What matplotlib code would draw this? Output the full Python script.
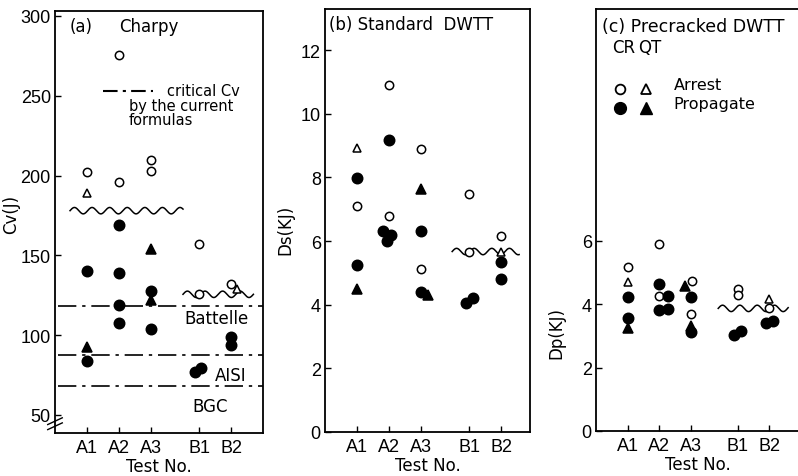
import numpy as np
import matplotlib
matplotlib.use("Agg")
import matplotlib.pyplot as plt

plt.rcParams['font.family'] = ['Liberation Sans', 'DejaVu Sans']
TXT = ['DejaVu Sans']

# ---------------- data ----------------
categories = ["A1", "A2", "A3", "B1", "B2"]
cat_pos = [1, 2, 3, 4.5, 5.5]

# Panel (a) Charpy  Cv (J): (category index, value, x-offset)
a_cr_arrest = [(0, 202.5, 0), (1, 275.6, 0), (1, 196, 0), (2, 210, 0), (2, 203, 0),
               (3, 157, 0), (3, 125.6, 0), (4, 132, 0)]
a_qt_arrest = [(0, 189, 0), (4, 129, 0.19)]
a_cr_prop = [(0, 140, 0), (0, 84, 0), (1, 169, 0), (1, 139, 0), (1, 119, 0), (1, 107.5, 0),
             (2, 127.5, 0), (2, 104, 0), (3, 77, -0.12), (3, 79.5, 0.06), (4, 99, 0), (4, 94, 0)]
a_qt_prop = [(0, 92.5, 0), (2, 154, 0), (2, 122, 0)]
a_critical_names = ["Battelle", "AISI", "BGC"]
a_critical_values = [118, 87.5, 68]
a_waves = [(0.47, 4.0, 178), (4.0, 6.2, 125.6)]

# Panel (b) Standard DWTT  Ds (KJ)
b_cr_arrest = [(0, 7.11, 0), (1, 10.9, 0), (1, 6.8, 0), (2, 8.88, 0), (2, 5.13, 0),
               (3, 7.47, 0), (3, 5.67, 0), (4, 6.17, 0)]
b_qt_arrest = [(0, 8.91, 0), (4, 5.64, 0)]
b_cr_prop = [(0, 7.97, 0), (0, 5.24, 0), (1, 9.16, 0), (1, 6.30, -0.2), (1, 6.19, 0.06),
             (1, 6.01, -0.06), (2, 6.33, 0), (2, 4.41, 0), (3, 4.06, -0.1), (3, 4.22, 0.12),
             (4, 5.35, 0), (4, 4.82, 0)]
b_qt_prop = [(0, 4.5, 0), (2, 7.63, 0), (2, 4.3, 0.22)]
b_waves = [(3.97, 6.06, 5.67)]

# Panel (c) Precracked DWTT  Dp (KJ)
c_cr_arrest = [(0, 5.17, 0), (1, 5.9, 0), (1, 4.25, 0), (2, 4.73, 0.06), (2, 3.68, 0),
               (3, 4.48, 0), (3, 4.3, 0), (4, 3.87, 0)]
c_qt_arrest = [(0, 4.7, 0), (4, 4.16, 0)]
c_cr_prop = [(0, 4.22, 0), (0, 3.56, 0), (1, 4.63, 0), (1, 4.25, 0.28), (1, 3.81, 0),
             (1, 3.84, 0.28), (2, 4.22, 0), (2, 3.11, 0), (3, 3.02, -0.12), (3, 3.17, 0.1),
             (4, 3.4, -0.1), (4, 3.46, 0.12)]
c_qt_prop = [(0, 3.24, 0), (2, 4.57, -0.19), (2, 3.33, 0)]
c_waves = [(3.88, 6.1, 3.87)]

# ---------------- figure ----------------
fig = plt.figure(figsize=(7.98, 4.77), dpi=100)
axA = fig.add_axes([55/798, 43/477, 208/798, 422/477])
axB = fig.add_axes([325/798, 44/477, 205/798, 423/477])
axC = fig.add_axes([596/798, 45/477, 204/798, 422/477])

def style_axis(ax):
    ax.set_xticks(cat_pos)
    ax.set_xticklabels(categories)
    ax.tick_params(direction='in', length=4, width=1, labelsize=13, pad=3)
    ax.tick_params(axis='x', pad=4)
    for s in ax.spines.values():
        s.set_linewidth(1.3)
    ax.set_xlabel("Test No.", fontsize=12, family=TXT)
    ax.xaxis.set_label_coords(0.5, -0.057)

def plot_points(ax, pts, marker, filled, ms):
    xs = [cat_pos[i] + off for i, v, off in pts]
    ys = [v for i, v, off in pts]
    ax.plot(xs, ys, linestyle='none', marker=marker, markersize=ms,
            markerfacecolor='black' if filled else 'white',
            markeredgecolor='black', markeredgewidth=1.1, zorder=4)

def draw_wave(ax, x0, x1, level, px_per_unit_y, amp_px=3.2, period=0.55):
    xs = np.linspace(x0, x1, 300)
    amp = amp_px / px_per_unit_y
    ys = level + amp * np.sin(2 * np.pi * (xs - x0) / period)
    ax.plot(xs, ys, color='black', lw=1.1, zorder=3)

def all_points(ax, cra, qta, crp, qtp):
    plot_points(ax, cra, 'o', False, 6)
    plot_points(ax, qta, '^', False, 6)
    plot_points(ax, crp, 'o', True, 7.5)
    plot_points(ax, qtp, '^', True, 7)

# Panel (a)
axA.set_xlim(0, 6.5)
axA.set_ylim(38.7, 303.1)
axA.set_yticks([50, 100, 150, 200, 250, 300])
style_axis(axA)
all_points(axA, a_cr_arrest, a_qt_arrest, a_cr_prop, a_qt_prop)
pxA = 422 / (303.1 - 38.7)
for x0, x1, lv in a_waves:
    draw_wave(axA, x0, x1, lv, pxA)
ls_dd = (0, (11, 3.5, 2, 3.5))
label_x = [5.05, 5.5, 4.85]
label_dy = [-7.5, -12.5, -12.5]
for name, val, lx, dy in zip(a_critical_names, a_critical_values, label_x, label_dy):
    axA.plot([0.1, 6.5], [val, val], color='black', lw=1.2, linestyle=ls_dd, zorder=2)
    axA.text(lx, val + dy, name, fontsize=12, ha='center', va='center', family=TXT)
axA.text(0.07, 0.965, "(a)", transform=axA.transAxes, fontsize=12, va='center', family=TXT)
axA.text(0.31, 0.965, "Charpy", transform=axA.transAxes, fontsize=12, va='center', family=TXT)
axA.plot([1.5, 3.05], [253, 253], color='black', lw=1.5, linestyle=(0, (7, 2.5, 1.5, 2.5)))
axA.text(3.5, 253, "critical Cv", fontsize=10.5, va='center', family=TXT)
axA.text(2.3, 244, "by the current", fontsize=10.5, va='center', family=TXT)
axA.text(2.3, 235, "formulas", fontsize=10.5, va='center', family=TXT)
axA.set_ylabel("Cv(J)", fontsize=12, family=TXT)
axA.yaxis.set_label_coords(-0.17, 0.52)
# axis break mark
for dy in (-0.006, 0.006):
    axA.plot([-0.035, 0.035], [0.022 + dy - 0.008, 0.022 + dy + 0.008],
             transform=axA.transAxes, color='black', lw=1.0, clip_on=False, zorder=5)

# Panel (b)
axB.set_xlim(0, 6.4)
axB.set_ylim(0, 13.29)
axB.set_yticks([0, 2, 4, 6, 8, 10, 12])
style_axis(axB)
all_points(axB, b_cr_arrest, b_qt_arrest, b_cr_prop, b_qt_prop)
pxB = 423 / 13.29
for x0, x1, lv in b_waves:
    draw_wave(axB, x0, x1, lv, pxB)
axB.text(0.02, 0.965, "(b) Standard  DWTT", transform=axB.transAxes, fontsize=12,
         va='center', family=TXT)
axB.set_ylabel("Ds(KJ)", fontsize=12, family=TXT)
axB.yaxis.set_label_coords(-0.15, 0.48)

# Panel (c)
axC.set_xlim(0, 204 / 31.5)
axC.set_ylim(0, 13.32)
axC.set_yticks([0, 2, 4, 6])
style_axis(axC)
axC.spines['right'].set_visible(False)
all_points(axC, c_cr_arrest, c_qt_arrest, c_cr_prop, c_qt_prop)
pxC = 422 / 13.32
for x0, x1, lv in c_waves:
    draw_wave(axC, x0, x1, lv, pxC)
axC.text(0.03, 0.96, "(c) Precracked DWTT", transform=axC.transAxes, fontsize=12.5,
         va='center', family=TXT)
axC.text(0.078, 0.91, "CR", transform=axC.transAxes, fontsize=12, va='center', family=TXT)
axC.text(0.205, 0.91, "QT", transform=axC.transAxes, fontsize=12, va='center', family=TXT)
axC.plot([0.12], [0.81], 'o', transform=axC.transAxes, ms=7, mfc='white', mec='black', mew=1.3)
axC.plot([0.245], [0.81], '^', transform=axC.transAxes, ms=7, mfc='white', mec='black', mew=1.3)
axC.plot([0.12], [0.765], 'o', transform=axC.transAxes, ms=8.5, mfc='black', mec='black')
axC.plot([0.245], [0.765], '^', transform=axC.transAxes, ms=8.5, mfc='black', mec='black')
axC.text(0.38, 0.82, "Arrest", transform=axC.transAxes, fontsize=11.5, va='center', family=TXT)
axC.text(0.38, 0.777, "Propagate", transform=axC.transAxes, fontsize=11.5, va='center', family=TXT)
axC.set_ylabel("Dp(KJ)", fontsize=12, family=TXT)
axC.yaxis.set_label_coords(-0.15, 0.235)

fig.savefig("out.png", dpi=100)
